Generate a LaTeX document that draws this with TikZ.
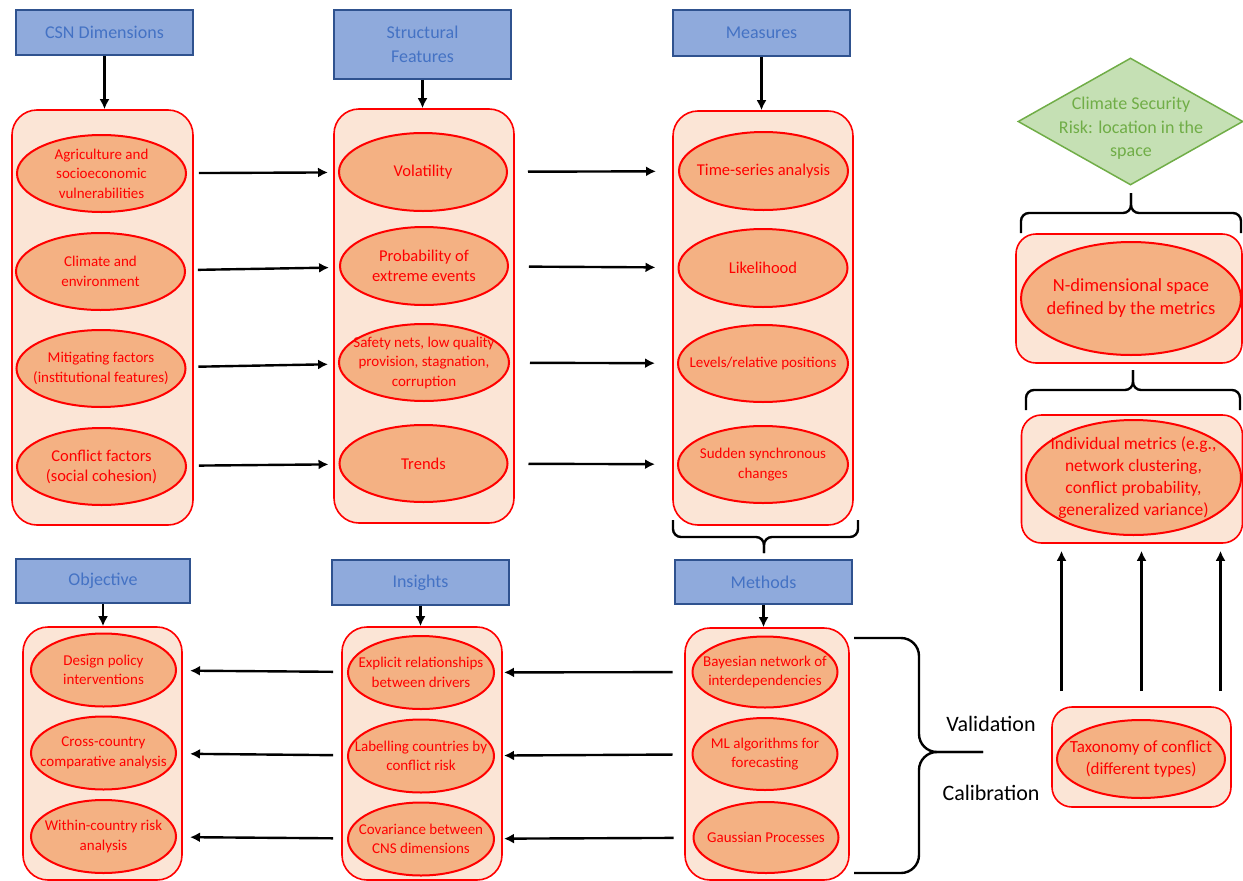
\documentclass[tikz,border=0pt]{standalone}
\usepackage{fontspec}
\setmainfont{Carlito}
\usetikzlibrary{shapes.geometric, arrows.meta}

\definecolor{headfill}{HTML}{8FAADC}
\definecolor{headline}{HTML}{2F528F}
\definecolor{headtext}{HTML}{4472C4}
\definecolor{panelfill}{HTML}{FBE5D6}
\definecolor{itemfill}{HTML}{F4B183}
\definecolor{riskfill}{HTML}{C5E0B4}
\definecolor{riskline}{HTML}{70AD47}

\tikzset{
  header/.style={draw=headline, fill=headfill, line width=1.6pt, text=headtext,
    font=\fontsize{18}{24}\selectfont, align=center, inner sep=0pt},
  panel/.style={draw=red, fill=panelfill, line width=1.6pt, rounded corners=25pt, inner sep=0pt},
  item/.style={ellipse, draw=red, fill=itemfill, line width=2pt, text=red,
    font=\fontsize{15}{19.5}\selectfont, align=center, inner sep=-30pt,
    minimum width=169pt, minimum height=77pt},
  bigitem/.style={item, font=\fontsize{16.5}{20}\selectfont},
  lowitem/.style={item, minimum width=145pt, minimum height=73pt},
  risk/.style={diamond, draw=riskline, fill=riskfill, line width=1.5pt, inner sep=0pt},
  risktext/.style={text=riskline, font=\fontsize{18}{23.5}\selectfont, align=center},
  flow/.style={line width=2.4pt, -{Latex[length=10pt,width=10pt]}},
  bracket/.style={line width=2.4pt, rounded corners=8pt},
  note/.style={font=\fontsize{22}{26}\selectfont},
}

\begin{document}
\begin{tikzpicture}[x=1pt, y=-1pt]
\useasboundingbox (0,0) rectangle (1243,881);

% headers
\node[header, minimum width=177pt, minimum height=45pt] (csn) at (104.5,32.5) {CSN Dimensions};
\node[header, minimum width=177pt, minimum height=69pt] (struct) at (422.5,44.5) {Structural\\Features};
\node[header, minimum width=177pt, minimum height=46pt] (meas) at (761.5,33) {Measures};
\node[header, minimum width=174pt, minimum height=44pt] (obj) at (103,581) {Objective};
\node[header, minimum width=177pt, minimum height=45pt] (ins) at (420.5,582.5) {Insights};
\node[header, minimum width=177pt, minimum height=44pt] (meth) at (763.5,582) {Methods};

% panels
\node[panel, minimum width=181pt, minimum height=415pt] (csnbox) at (102.5,317.5) {};
\node[panel, minimum width=180pt, minimum height=414pt] (structbox) at (424,316) {};
\node[panel, minimum width=180pt, minimum height=414pt] (measbox) at (763,318) {};
\node[panel, minimum width=159pt, minimum height=253pt] (objbox) at (102.5,753.5) {};
\node[panel, minimum width=160pt, minimum height=253pt] (insbox) at (422,753.5) {};
\node[panel, minimum width=164pt, minimum height=252pt] (methbox) at (767,754) {};
\node[panel, rounded corners=20pt, minimum width=226pt, minimum height=129pt] (spacebox) at (1129,298.5) {};
\node[panel, rounded corners=20pt, minimum width=221pt, minimum height=128pt] (metricbox) at (1132,479) {};
\node[panel, rounded corners=20pt, minimum width=179pt, minimum height=100pt] (taxbox) at (1141.5,757) {};

% CSN dimensions
\node[item] (agri) at (101.5,173.5) {Agriculture and\\socioeconomic\\vulnerabilities};
\node[item] (climate) at (100.5,271.5) {Climate and\\environment};
\node[item] (mitig) at (101,368.5) {Mitigating factors\\(institutional features)};
\node[bigitem] (confl) at (101.5,466.5) {Conflict factors\\(social cohesion)};

% structural features
\node[bigitem, minimum width=168pt, minimum height=78pt] (volat) at (423,172) {Volatility};
\node[bigitem, minimum width=168pt, minimum height=78pt] (prob) at (424,266) {Probability of\\extreme events};
\node[item, minimum width=170pt] (safety) at (424,362.5) {Safety nets, low quality\\provision, stagnation,\\corruption};
\node[bigitem, minimum width=168pt] (trends) at (423.5,463.5) {Trends};

% measures
\node[bigitem, minimum height=78pt] (timeser) at (763.5,171) {Time-series analysis};
\node[bigitem, minimum height=78pt] (likely) at (763,268) {Likelihood};
\node[item, minimum width=170pt] (levels) at (763,363.5) {Levels/relative positions};
\node[item, minimum width=170pt] (sudden) at (763,464.5) {Sudden synchronous\\changes};

% objective
\node[lowitem] (design) at (103.5,670) {Design policy\\interventions};
\node[lowitem] (cross) at (103.5,753) {Cross-country\\comparative analysis};
\node[lowitem] (within) at (103.5,836.5) {Within-country risk\\analysis};

% insights
\node[lowitem, minimum width=146pt] (explicit) at (421,672.5) {Explicit relationships\\between drivers};
\node[lowitem, minimum width=146pt] (labelling) at (421,756) {Labelling countries by\\conflict risk};
\node[lowitem, minimum width=146pt] (covar) at (421,839) {Covariance between\\CNS dimensions};

% methods
\node[lowitem, minimum height=71pt] (bayes) at (765,672) {Bayesian network of\\interdependencies};
\node[lowitem, minimum height=72pt] (mlalg) at (765,754) {ML algorithms for\\forecasting};
\node[lowitem, minimum height=71pt] (gauss) at (766,837.5) {Gaussian Processes};

% right column
\node[risk, minimum width=225pt, minimum height=127pt] (risk) at (1130.5,121.5) {};
\node[risktext] (risklabel) at (1131,128.5) {Climate Security\\Risk: location in the\\space};
\node[item, minimum width=220pt, minimum height=113pt, font=\fontsize{18.5}{23}\selectfont] (space) at (1131,298.5) {N-dimensional space\\defined by the metrics};
\node[item, minimum width=215pt, minimum height=115pt, font=\fontsize{17.5}{22}\selectfont] (metric) at (1133.5,477.5) {Individual metrics (e.g.,\\network clustering,\\conflict probability,\\generalized variance)};
\node[item, minimum width=168pt, minimum height=78pt, font=\fontsize{17}{22.5}\selectfont] (taxonomy) at (1141,759) {Taxonomy of conflict\\(different types)};

\node[note] (valid) at (991,724) {Validation};
\node[note] (calib) at (991,793) {Calibration};

% arrows
\foreach \h/\b in {csn/csnbox, struct/structbox, meas/measbox, obj/objbox, ins/insbox, meth/methbox}
  \draw[flow] (\h.south) -- (\h.south |- \b.north);
\foreach \a/\b in {agri/volat, climate/prob, mitig/safety, confl/trends}
  \draw[flow, shorten <=12pt, shorten >=10pt] (\a) -- (\b);
\foreach \a/\b in {volat/timeser, prob/likely, safety/levels, trends/sudden}
  \draw[flow, shorten <=20pt, shorten >=22pt] (\a) -- (\b);
\foreach \a/\b in {bayes/explicit, mlalg/labelling, gauss/covar}
  \draw[flow, shorten <=19pt, shorten >=9pt] (\a) -- (\b);
\foreach \a/\b in {explicit/design, labelling/cross, covar/within}
  \draw[flow, shorten <=14pt, shorten >=13pt] (\a) -- (\b);
\foreach \dx [count=\i] in {-80,0,79} {
  \coordinate (tax\i) at ([xshift=\dx pt, yshift=15pt]taxbox.north);
  \draw[flow, shorten >=7pt] (tax\i) -- (tax\i |- metricbox.south);
}

% braces
\draw[bracket] (673,520) |- (764,537) -- (764,553);
\draw[bracket] (858,520) |- (764,537) -- (764,553);
\draw[bracket] (1021,233) |- (1131,213) -- (1131,193);
\draw[bracket] (1241,233) |- (1131,213) -- (1131,193);
\draw[bracket] (1026,410) |- (1133,390) -- (1133,370);
\draw[bracket] (1240,410) |- (1133,390) -- (1133,370);
\draw[bracket, rounded corners=18pt] (854,638) -| (919,752) -- (983,752);
\draw[bracket, rounded corners=18pt] (854,873) -| (919,752) -- (983,752);

\end{tikzpicture}
\end{document}
